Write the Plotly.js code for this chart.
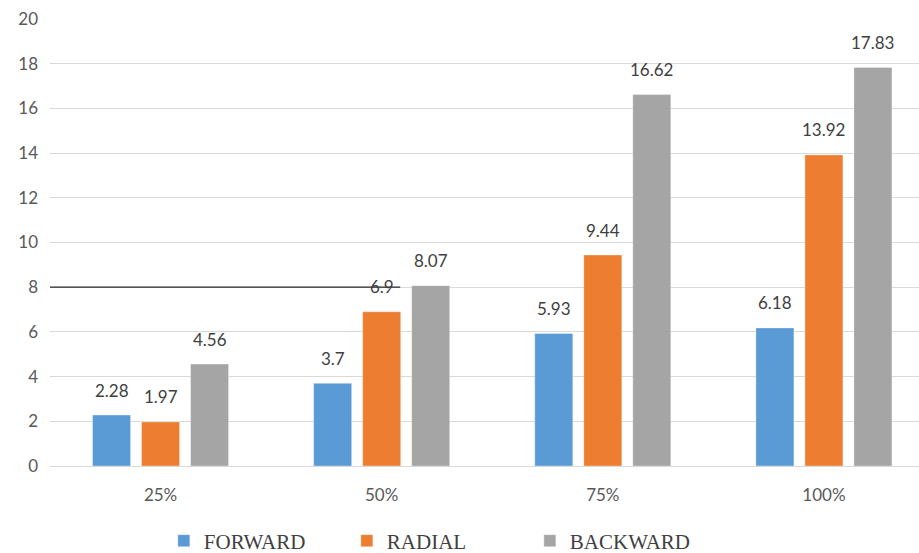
<!DOCTYPE html>
<html>
<head>
<meta charset="utf-8">
<script src="https://cdn.plot.ly/plotly-3.0.1.min.js"></script>
<style>html,body{margin:0;padding:0;background:#fff;}#chart{width:919px;height:553px;}</style>
</head>
<body>
<div id="chart"></div>
<script>
const categories = ["25%", "50%", "75%", "100%"];
const seriesNames = ["FORWARD", "RADIAL", "BACKWARD"];
const forward = [2.28, 3.7, 5.93, 6.18];
const radial = [1.97, 6.9, 9.44, 13.92];
const backward = [4.56, 8.07, 16.62, 17.83];
const colors = ["#5b9bd5", "#ed7d31", "#a5a5a5"];
const yTicks = [0, 2, 4, 6, 8, 10, 12, 14, 16, 18, 20];
const refLineY = 8;

const allSeries = [forward, radial, backward];
const traces = allSeries.map((vals, i) => ({
  type: "bar",
  name: seriesNames[i],
  x: categories,
  y: vals,
  marker: { color: colors[i], line: { color: "rgba(255,255,255,0.35)", width: 1 } },
  hoverinfo: "none"
}));

const shifts = [-49, 0, 49];
const annotations = [];
allSeries.forEach((vals, i) => {
  vals.forEach((v, j) => {
    annotations.push({
      x: categories[j], y: v, xref: "x", yref: "y",
      text: String(v), showarrow: false,
      xshift: shifts[i], yshift: 25,
      font: { family: "Lato, 'Open Sans', sans-serif", size: 17, color: "#404040" }
    });
  });
});

const layout = {
  width: 919, height: 553,
  margin: { l: 50, r: 0, t: 19, b: 87, autoexpand: false },
  paper_bgcolor: "#fff", plot_bgcolor: "#fff",
  barmode: "group", bargap: 0.335, bargroupgap: 0.224,
  showlegend: true,
  legend: {
    orientation: "h", x: 0.131, xanchor: "left",
    yref: "container", y: 0.0217, yanchor: "middle",
    entrywidth: 138, entrywidthmode: "pixels",
    font: { family: "'Liberation Serif', 'Times New Roman', serif", size: 21, color: "#404040" },
    itemclick: false
  },
  xaxis: {
    type: "category", range: [-0.5, 3.43], automargin: false,
    showgrid: false, zeroline: false, showline: false,
    ticks: "outside", ticklen: 14, tickcolor: "rgba(0,0,0,0)",
    tickfont: { family: "Lato, 'Open Sans', sans-serif", size: 17, color: "#595959" }
  },
  yaxis: {
    range: [0, 20], tickvals: yTicks, automargin: false,
    showgrid: true, gridcolor: "#d9d9d9", gridwidth: 1,
    zeroline: true, zerolinecolor: "#d9d9d9", zerolinewidth: 1,
    showline: false,
    ticks: "", ticklabelstandoff: 11,
    tickfont: { family: "Lato, 'Open Sans', sans-serif", size: 17, color: "#595959" }
  },
  annotations: annotations,
  shapes: [{
    type: "line", xref: "paper", yref: "y",
    x0: 0, x1: 0.403, y0: refLineY, y1: refLineY,
    line: { color: "#262626", width: 1.3 }, layer: "above"
  }]
};

Plotly.newPlot("chart", traces, layout, { staticPlot: true, displayModeBar: false });
</script>
</body>
</html>
